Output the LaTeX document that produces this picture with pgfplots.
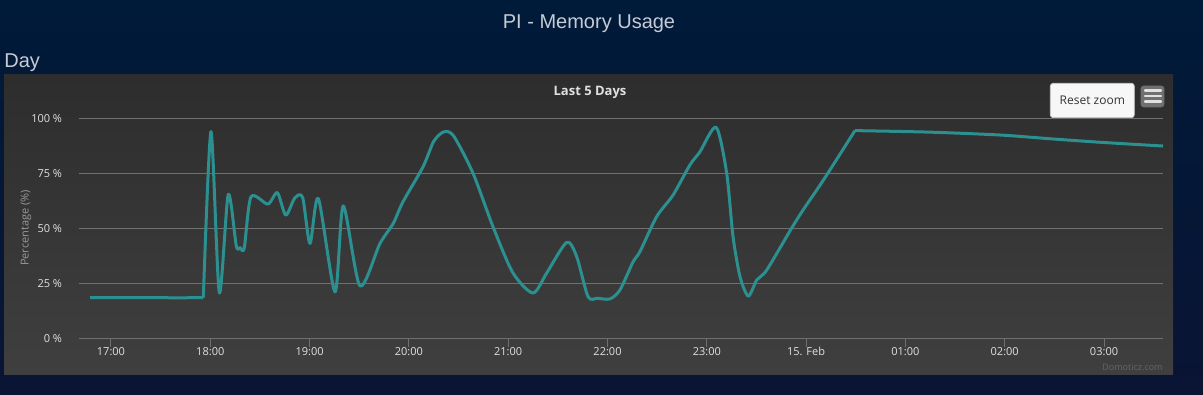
\documentclass[border=0pt]{standalone}
\usepackage{pgfplots}
\pgfplotsset{compat=1.18}
\usepackage{fontspec}
\setmainfont{Liberation Sans}
\newfontfamily\chartfont{Open Sans}
\definecolor{navytop}{HTML}{001A39}
\definecolor{navybot}{HTML}{0A1434}
\definecolor{paneltop}{HTML}{2D2D2E}
\definecolor{panelbot}{HTML}{3F3F40}
\definecolor{gridgray}{HTML}{707070}
\definecolor{ticktext}{HTML}{E0E0E3}
\definecolor{labeltext}{HTML}{9A9A9C}
\definecolor{pagetext}{HTML}{C6CBD4}
\definecolor{linecol}{HTML}{2B908F}
\definecolor{credit}{HTML}{666666}
\pgfplotsset{ser/.style={color=linecol,line width=1.5pt,line join=round,no marks}}
\begin{document}
\begin{tikzpicture}[x=0.5pt,y=0.5pt]
% page background
\shade[top color=navytop,bottom color=navybot] (0,0) rectangle (1203,395);
% titles
\node[text=pagetext,font=\fontsize{10}{12}\selectfont] at (589,371) {PI - Memory Usage};
\node[text=pagetext,font=\fontsize{10}{12}\selectfont,anchor=west,inner sep=0pt] at (4,332) {Day};
% panel
\shade[top color=paneltop,bottom color=panelbot] (4,320) rectangle (1173,20);
\node[text=ticktext,font=\chartfont\bfseries\fontsize{6.5}{8}\selectfont] at (590,303) {Last 5 Days};
% reset zoom button
\draw[fill=white!97!black,draw=black!20,rounded corners=1.5pt,line width=0.4pt] (1050.3,311.7) rectangle (1134.3,277.3);
\node[text=black!80,font=\chartfont\fontsize{6}{7}\selectfont] at (1092.3,294.5) {Reset zoom};
% menu button
\fill[fill=black!70!white!80,rounded corners=1.5pt] (1140.7,309.3) rectangle (1164.3,287.7);
\foreach \yy in {304.3,299,293.3}
  \draw[ticktext,line width=1.2pt,line cap=round] (1145,\yy) -- (1161,\yy);
% y label
\node[text=labeltext,rotate=90,font=\chartfont\fontsize{5.5}{7}\selectfont] at (26,167) {Percentage (\%)};
% credits
\node[text=credit,anchor=east,font=\chartfont\fontsize{4.5}{6}\selectfont,inner sep=0pt] at (1163,28) {Domoticz.com};
\begin{axis}[
  at={(39.65pt,28.35pt)}, anchor=south west,
  scale only axis, width=542pt, height=110pt,
  xmin=16.681, xmax=27.597, ymin=0, ymax=100,
  axis line style={draw=none},
  xtick={17,18,19,20,21,22,23,24,25,26,27},
  xticklabels={17:00,18:00,19:00,20:00,21:00,22:00,23:00,15. Feb,01:00,02:00,03:00},
  xtick pos=bottom, tick align=outside, major tick length=4.5pt,
  xtick style={draw=gridgray,line width=0.5pt},
  ytick={0,25,50,75,100},
  yticklabels={0 \%,25 \%,50 \%,75 \%,100 \%},
  ytick style={draw=none},
  ymajorgrids, grid style={gridgray,line width=0.5pt},
  /pgf/number format/assume math mode=true,
  ticklabel style={font=\chartfont\fontsize{5.5}{7}\selectfont,text=ticktext},
  xticklabel style={yshift=3.6pt},
  yticklabel style={xshift=-0.6pt},
]
% flat start
\addplot[ser] coordinates {(16.789,18.5) (17.3,18.5) (17.7,18.4) (17.93,18.5)};
% main spline
\addplot[ser,smooth,tension=0.45] coordinates {
(17.93,18.5)
(18.007,94.0) (18.091,20.7) (18.181,65.4) (18.262,42.0) (18.30,41.2)
(18.342,41.0) (18.41,64.3) (18.58,61.0) (18.675,66.2) (18.76,56.0)
(18.85,63.7) (18.93,64.0) (19.004,43.1) (19.088,63.6) (19.256,21.1)
(19.339,60.2) (19.507,23.8) (19.709,43.1) (19.84,52.0) (19.94,62.0)
(20.142,77.9) (20.25,89.5) (20.35,93.8) (20.45,92.0) (20.645,75.1)
(20.847,50.7) (21.048,29.7) (21.25,20.6) (21.388,29.7) (21.589,43.6)
(21.69,37.1) (21.804,18.9) (21.9,18.2) (22.025,17.9) (22.126,22.0)
(22.257,34.7) (22.327,39.4) (22.495,55.3) (22.66,65.1) (22.83,78.8)
(22.93,84.7) (23.094,95.9) (23.2,75.1) (23.264,46.2) (23.335,27.9)
(23.418,19.2) (23.503,26.5) (23.603,31.0) (23.852,49.9) (23.969,58.3)
(24.107,67.4) (24.22,75.1) (24.492,94.4)
};
% plateau
\addplot[ser,smooth,tension=0.45] coordinates {
(24.492,94.4) (25.248,93.7) (25.953,92.4) (26.456,90.7) (26.96,89.1) (27.594,87.4)
};
\end{axis}
\end{tikzpicture}
\end{document}
